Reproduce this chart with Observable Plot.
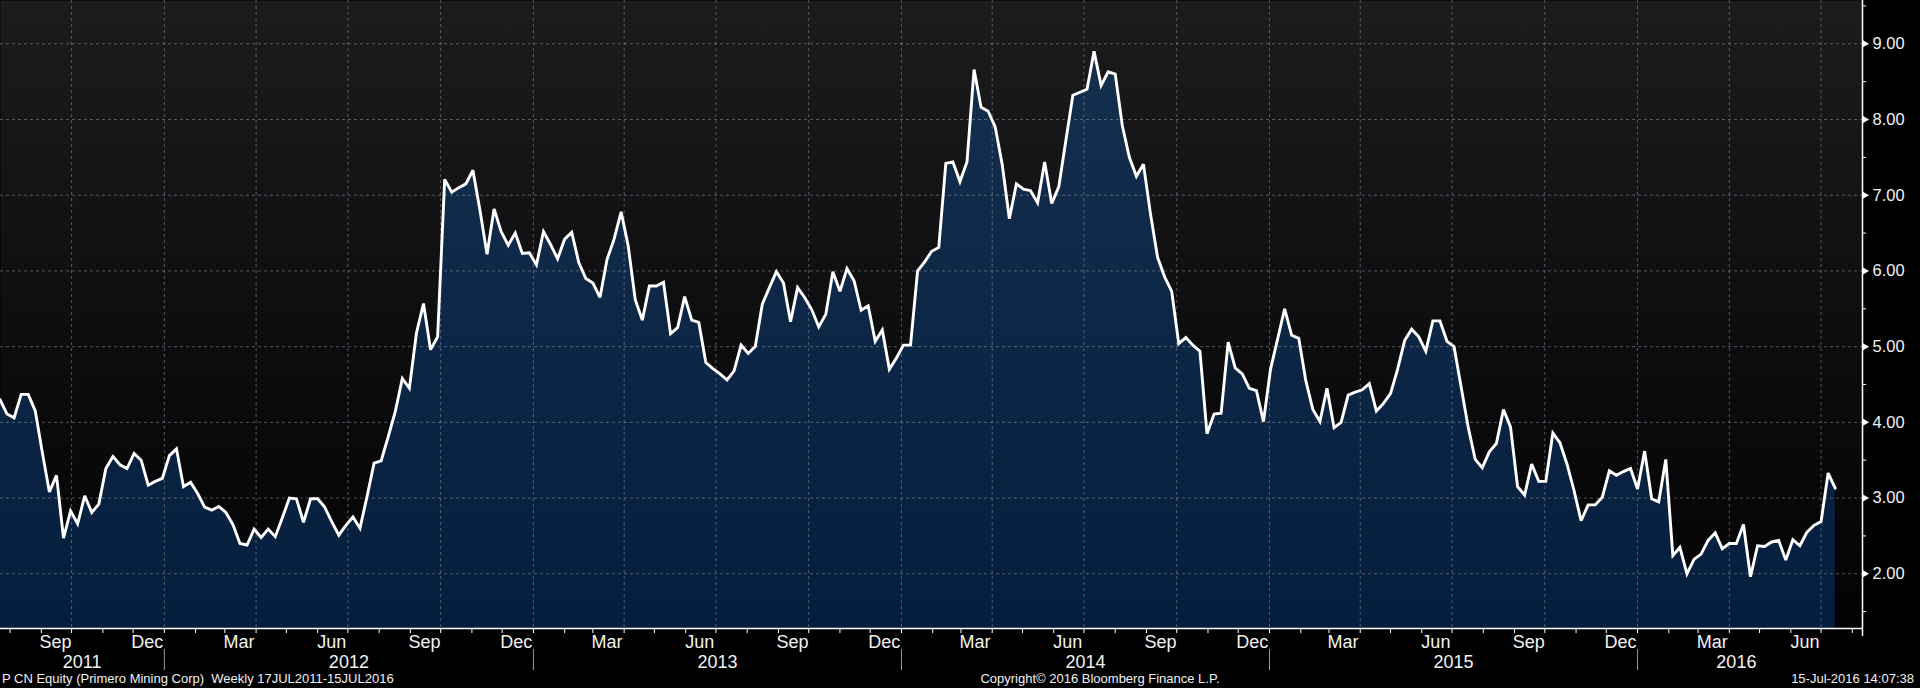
<!DOCTYPE html>
<html>
<head>
<meta charset="utf-8">
<script src="https://cdn.jsdelivr.net/npm/d3@7"></script>
<script src="https://cdn.jsdelivr.net/npm/@observablehq/plot@0.6"></script>
<style>
  html, body { margin: 0; padding: 0; background: #000; overflow: hidden; }
  #chart svg { display: block; }
  #footer { position: relative; width: 1920px; height: 18px; background: #000;
    font-family: "Liberation Sans", Arial, sans-serif; font-size: 13px; color: #f0f0f0; line-height: 16px; }
  #footer span { position: absolute; top: 1px; white-space: pre; }
</style>
</head>
<body>
<div id="chart"></div>
<div id="footer">
  <span id="fl" style="left:2px"></span>
  <span id="fc" style="left:1100px; transform:translateX(-50%)"></span>
  <span id="fr" style="right:6px"></span>
</div>
<script>
// ---- data (weekly closes, P CN Equity) ----
const firstWeek = "2011-07-22";   // first weekly observation (Friday)
const prices = [
  4.30, 4.11, 4.06, 4.37, 4.37, 4.15, 3.60, 3.08, 3.30, 2.47,
  2.83, 2.66, 3.03, 2.81, 2.92, 3.39, 3.55, 3.44, 3.39, 3.59,
  3.50, 3.17, 3.22, 3.26, 3.56, 3.65, 3.15, 3.21, 3.06, 2.88,
  2.84, 2.89, 2.81, 2.65, 2.40, 2.38, 2.59, 2.48, 2.59, 2.49,
  2.74, 3.00, 2.99, 2.68, 2.99, 2.99, 2.88, 2.69, 2.51, 2.64,
  2.75, 2.60, 3.02, 3.46, 3.49, 3.81, 4.14, 4.58, 4.45, 5.18,
  5.57, 4.96, 5.13, 7.21, 7.04, 7.10, 7.15, 7.33,
  6.80, 6.22, 6.82, 6.52, 6.34, 6.50, 6.23, 6.24, 6.08, 6.52,
  6.35, 6.16, 6.42, 6.51, 6.11, 5.90, 5.84, 5.65, 6.15, 6.42,
  6.78, 6.33, 5.62, 5.35, 5.80, 5.80, 5.85, 5.17, 5.25, 5.66,
  5.35, 5.32, 4.79, 4.71, 4.64, 4.56, 4.68, 5.02, 4.91, 5.00,
  5.56, 5.78, 5.99, 5.84, 5.33, 5.78, 5.65, 5.49, 5.26, 5.43,
  5.99, 5.73, 6.03, 5.87, 5.48, 5.54, 5.07, 5.22, 4.70, 4.85,
  5.02, 5.02, 6.00, 6.12, 6.26, 6.31, 7.42,
  7.44, 7.18, 7.44, 8.66, 8.16, 8.11, 7.90, 7.40, 6.69, 7.15,
  7.08, 7.06, 6.90, 7.44, 6.89, 7.11, 7.72, 8.32, 8.36, 8.40,
  8.90, 8.45, 8.63, 8.60, 7.92, 7.50, 7.25, 7.41, 6.75, 6.18,
  5.92, 5.73, 5.04, 5.12, 5.02, 4.94, 3.85, 4.11, 4.12, 5.06,
  4.72, 4.64, 4.45, 4.42, 4.01, 4.70, 5.10, 5.50, 5.15, 5.11,
  4.55, 4.17, 4.01, 4.45, 3.93, 4.00, 4.36, 4.40, 4.43, 4.51,
  4.15, 4.25, 4.38,
  4.70, 5.08, 5.23, 5.13, 4.94, 5.34, 5.34, 5.07, 5.00, 4.47,
  3.94, 3.51, 3.40, 3.61, 3.72, 4.17, 3.94, 3.15, 3.04, 3.45,
  3.22, 3.22, 3.86, 3.73, 3.45, 3.10, 2.70, 2.91, 2.91, 3.01,
  3.36, 3.30, 3.35, 3.39, 3.12, 3.62, 2.99, 2.95, 3.51, 2.24,
  2.35, 2.00, 2.19, 2.26, 2.44, 2.54, 2.33, 2.40, 2.40, 2.65,
  1.96, 2.37, 2.36, 2.42, 2.44, 2.18, 2.45, 2.37, 2.55, 2.64,
  2.69, 3.33, 3.13
];
const yTicks = [2, 3, 4, 5, 6, 7, 8, 9];
const yMinorTicks = [1.5, 2.5, 3.5, 4.5, 5.5, 6.5, 7.5, 8.5, 9.5];
const labelMonths = ["Mar", "Jun", "Sep", "Dec"];
const years = [2011, 2012, 2013, 2014, 2015, 2016];
const xDomain = [new Date("2011-07-22T12:00Z"), new Date("2016-08-11T02:00Z")];
const yDomain = [1.277, 9.572];
const footerLeft = "P CN Equity (Primero Mining Corp)  Weekly 17JUL2011-15JUL2016";
const footerCenter = "Copyright\u00A9 2016 Bloomberg Finance L.P.";
const footerRight = "15-Jul-2016 14:07:38";

// ---- build table ----
const start = new Date(firstWeek + "T00:00Z");
const data = prices.map((v, i) => ({ date: d3.utcDay.offset(start, 7 * i), value: v }));
const firstDate = data[0].date, lastDate = data[data.length - 1].date;

const allMonths = d3.utcMonths(d3.utcMonth.floor(xDomain[0]), xDomain[1]);
const gridDates = allMonths.filter(d => d.getUTCMonth() % 3 === 0 && d > xDomain[0]);
const monthTicks = allMonths.filter(d => d >= xDomain[0]);
const fmtMonth = d3.utcFormat("%b");
const monthLabels = allMonths
  .filter(d => labelMonths.includes(fmtMonth(d)))
  .map(d => ({ date: d3.utcDay.offset(d, 14), label: fmtMonth(d) }));
const yearStarts = years.slice(1).map(y => new Date(Date.UTC(y, 0, 1)));
const yearLabels = years.map(y => {
  const a = d3.max([new Date(Date.UTC(y, 0, 1)), firstDate]);
  const b = d3.min([new Date(Date.UTC(y + 1, 0, 1)), lastDate]);
  return { date: new Date((+a + +b) / 2), label: String(y) };
});

const W = 1920, H = 670, plotBottom = 628;
const font = "'Liberation Sans', Arial, sans-serif";

const chart = Plot.plot({
  width: W,
  height: H,
  marginLeft: 0,
  marginRight: W - 1862,
  marginTop: 0,
  marginBottom: H - plotBottom,
  style: { background: "#000", color: "#f0f0f0", fontFamily: font, overflow: "visible" },
  x: { type: "utc", domain: xDomain, axis: null },
  y: { domain: yDomain, axis: null },
  marks: [
    Plot.frame({ fill: "url(#bgGrad)", stroke: null }),
    Plot.areaY(data, { x: "date", y1: yDomain[0], y2: "value", fill: "url(#areaGrad)", clip: true }),
    Plot.ruleX(gridDates, { stroke: "#b4b8c0", strokeOpacity: 0.42, strokeWidth: 1, strokeDasharray: "3,3" }),
    Plot.ruleY(yTicks, { stroke: "#b4b8c0", strokeOpacity: 0.42, strokeWidth: 1, strokeDasharray: "3,3" }),
    Plot.lineY(data, { x: "date", y: "value", stroke: "#ffffff", strokeWidth: 2.9, strokeLinejoin: "miter", strokeMiterlimit: 3, clip: true }),
    // bottom axis line and month ticks
    Plot.ruleY([yDomain[0]], { stroke: "#ffffff", strokeWidth: 1.5 }),
    Plot.ruleX(monthTicks, { stroke: "#ffffff", strokeWidth: 1, insetTop: plotBottom, insetBottom: -5 }),
    // right axis line, minor ticks, markers
    Plot.ruleX([xDomain[1]], { stroke: "#ffffff", strokeWidth: 1.5, insetBottom: -8 }),
    Plot.ruleY(yMinorTicks, { stroke: "#ffffff", strokeWidth: 1, insetLeft: 1862, insetRight: -4 }),
    Plot.dot(yTicks, { x: () => xDomain[1], y: d => d, symbol: "triangle", rotate: 90, r: 2.6, fill: "#ffffff", stroke: null, dx: 2.5 }),
    Plot.axisY({ ticks: yTicks, anchor: "right", tickSize: 0, tickPadding: 10, tickFormat: d3.format(".2f"),
      fontSize: 16.5, fill: "#f2f2f2", label: null }),
    // month labels, year labels, year separators
    Plot.text(monthLabels, { x: "date", text: "label", frameAnchor: "bottom", lineAnchor: "bottom", dy: 19,
      fontSize: 18, fill: "#f2f2f2" }),
    Plot.ruleX(yearStarts, { stroke: "#9a9a9a", strokeWidth: 1, insetTop: 649, insetBottom: -42 }),
    Plot.text(yearLabels, { x: "date", text: "label", frameAnchor: "bottom", lineAnchor: "bottom", dy: 39,
      fontSize: 18, fill: "#f2f2f2" })
  ]
});

// gradients
const defs = d3.select(chart).insert("defs", ":first-child");
const bg = defs.append("linearGradient").attr("id", "bgGrad").attr("gradientUnits", "userSpaceOnUse")
  .attr("x1", 0).attr("x2", 0).attr("y1", 0).attr("y2", plotBottom);
bg.append("stop").attr("offset", "0").attr("stop-color", "#1c1c1e");
bg.append("stop").attr("offset", "0.55").attr("stop-color", "#0d0d10");
bg.append("stop").attr("offset", "1").attr("stop-color", "#030306");
const ag = defs.append("linearGradient").attr("id", "areaGrad").attr("gradientUnits", "userSpaceOnUse")
  .attr("x1", 0).attr("x2", 0).attr("y1", 0).attr("y2", plotBottom);
ag.append("stop").attr("offset", "0").attr("stop-color", "#16304f");
ag.append("stop").attr("offset", "1").attr("stop-color", "#051e3d");

document.getElementById("chart").appendChild(chart);
document.getElementById("fl").textContent = footerLeft;
document.getElementById("fc").textContent = footerCenter;
document.getElementById("fr").textContent = footerRight;
</script>
</body>
</html>
